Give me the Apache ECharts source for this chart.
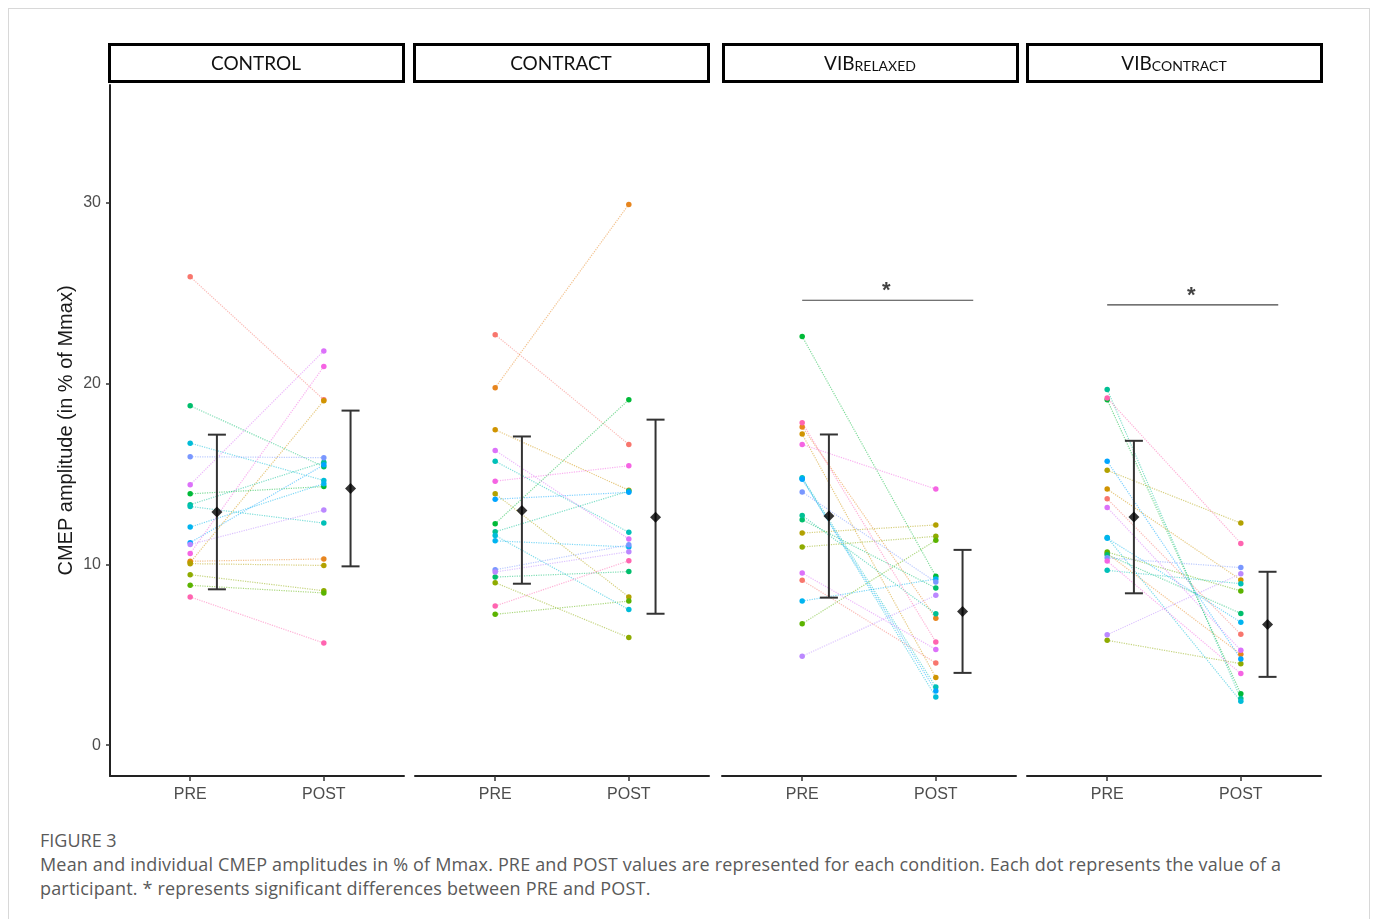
<!DOCTYPE html>
<html>
<head>
<meta charset="utf-8">
<script src="https://cdn.jsdelivr.net/npm/echarts@6.0.0/dist/echarts.min.js"></script>
<style>
  html, body { margin: 0; padding: 0; background: #fff; }
  #frame { position: absolute; left: 8px; top: 8px; width: 1362px; height: 940px; border: 1px solid #d8d8d8; box-sizing: border-box; }
  #chart { position: absolute; left: 0; top: 0; width: 1375px; height: 820px; }
  #caption { position: absolute; left: 40px; top: 828px; width: 1262px; font-family: "Open Sans", sans-serif; color: #5a5a5a; font-size: 18px; letter-spacing: 0.17px; line-height: 24px; }
  #caption .fig { text-transform: uppercase; color: #5a5a5a; letter-spacing: 0; }
</style>
</head>
<body>
<div id="frame"></div>
<div id="chart"></div>
<div id="caption">
  <div class="fig">FIGURE 3</div>
  <div>Mean and individual CMEP amplitudes in % of Mmax. PRE and POST values are represented for each condition. Each dot represents the value of a participant. * represents significant differences between PRE and POST.</div>
</div>
<script>
// panel headers (main part + small-caps part)
const headerMain = ['CONTROL', 'CONTRACT', 'VIB', 'VIB'];
const headerSub = ['', '', 'RELAXED', 'CONTRACT'];
const timeLabels = ['PRE', 'POST'];
const yTicks = [0, 10, 20, 30];

// individual participants, same index = same participant colour
const controlPre   = [25.9, 10.17, 10.1, 10.04, 9.43, 8.84, 13.9, 18.77, 13.3, 13.2, 16.7, 12.06, 11.2, 15.95, 11.1, 14.4, 10.6, 8.2];
const controlPost  = [19.1, 10.3, 19.05, 9.94, 8.54, 8.42, 14.3, 15.4, 15.65, 12.28, 14.64, 14.46, 15.5, 15.9, 13.0, 21.8, 20.94, 5.65];
const contractPre  = [22.7, 19.76, 17.44, 13.9, 8.99, 7.24, 12.25, 9.3, 11.8, 15.7, 11.6, 11.3, 13.6, 9.7, 9.58, 16.3, 14.6, 7.7];
const contractPost = [16.63, 29.9, 14.1, 8.2, 5.95, 7.97, 19.1, 9.6, 14.05, 11.77, 7.5, 10.96, 13.98, 11.08, 10.7, 11.4, 15.45, 10.2];
const vibRelPre    = [9.12, 17.6, 17.2, 11.73, 10.96, 6.72, 22.6, 12.47, 12.7, 14.79, 14.75, 7.97, 14.7, 14.0, 4.92, 9.52, 16.63, 17.83];
const vibRelPost   = [4.55, 7.02, 3.74, 12.18, 11.55, 11.33, 9.34, 8.69, 7.27, 3.22, 2.67, 9.19, 3.0, 9.02, 8.29, 5.3, 14.16, 5.71];
const vibConPre    = [13.63, 10.6, 14.16, 15.2, 5.8, 10.68, 19.1, 10.53, 19.67, 9.67, 11.49, 11.45, 15.7, 10.36, 6.11, 13.15, 10.18, 19.2];
const vibConPost   = [6.13, 5.03, 9.14, 12.28, 4.51, 8.53, 2.85, 7.29, 2.58, 8.93, 2.43, 6.8, 4.77, 9.82, 9.48, 5.25, 3.96, 11.16];

// group means and error bars
const meanPre     = [12.9, 12.98, 12.67, 12.62];
const meanPost    = [14.2, 12.6, 7.4, 6.68];
const errPreLow   = [8.62, 8.93, 8.16, 8.4];
const errPreHigh  = [17.17, 17.07, 17.18, 16.83];
const errPostLow  = [9.89, 7.27, 4.0, 3.78];
const errPostHigh = [18.5, 18.0, 10.8, 9.59];

// significance bars: panel index and height
const sigPanels = [2, 3];
const sigY = [24.6, 24.35];

const palette = ['#F8766D','#E7851E','#D09400','#B2A100','#8EAB00','#5BB300','#00BA38','#00BE6C','#00C094',
  '#00C0B8','#00BCD8','#00B4F0','#00A5FF','#7997FF','#BB88FF','#DC71FA','#F564E3','#FF64B0'];

const pres = [controlPre, contractPre, vibRelPre, vibConPre];
const posts = [controlPost, contractPost, vibRelPost, vibConPost];

const gridLefts = [110, 415, 722, 1027];
const boxLefts = [108, 413, 722, 1026];
const gridW = 294, gridTop = 85, gridH = 691;

const grid = gridLefts.map(l => ({ left: l, top: gridTop, width: gridW, height: gridH }));

const xAxis = gridLefts.map((l, i) => ({
  type: 'value', gridIndex: i, min: 0.4, max: 2.6,
  splitLine: { show: false },
  axisLine: { show: true, onZero: false, lineStyle: { color: '#222', width: 2 } },
  axisTick: { show: true, customValues: [1, 2], length: 5, lineStyle: { color: '#333', width: 1.5 } },
  axisLabel: { customValues: [1, 2], formatter: v => timeLabels[Math.round(v) - 1], color: '#4d4d4d',
    fontSize: 16, fontFamily: 'Liberation Sans, Arial, sans-serif', margin: 11 }
}));

const yAxis = gridLefts.map((l, i) => ({
  type: 'value', gridIndex: i, min: -1.7, max: 36.5,
  show: i === 0,
  splitLine: { show: false },
  name: i === 0 ? 'CMEP amplitude (in % of Mmax)' : '',
  nameLocation: 'middle', nameGap: 34,
  nameTextStyle: { fontSize: 20, color: '#1a1a1a', fontFamily: 'Liberation Sans, Arial, sans-serif' },
  axisLine: { show: true, lineStyle: { color: '#222', width: 2 } },
  axisTick: { show: true, customValues: yTicks, length: 4, lineStyle: { color: '#333', width: 1.5 } },
  axisLabel: { customValues: yTicks, color: '#4d4d4d', fontSize: 16, margin: 9,
    fontFamily: 'Liberation Sans, Arial, sans-serif' }
}));

const series = [];
pres.forEach((pre, p) => {
  pre.forEach((v, k) => {
    series.push({
      type: 'line', xAxisIndex: p, yAxisIndex: p,
      data: [[1, v], [2, posts[p][k]]],
      symbol: 'circle', symbolSize: 5.5,
      itemStyle: { color: palette[k] },
      lineStyle: { color: palette[k], type: 'dotted', width: 1.2, opacity: 0.5 },
      silent: true, animation: false
    });
  });
});

function errRender(params, api) {
  const x = api.value(0);
  const top = api.coord([x, api.value(2)]);
  const bot = api.coord([x, api.value(1)]);
  const cap = 9;
  const st = { stroke: '#333', lineWidth: 2 };
  return {
    type: 'group', children: [
      { type: 'line', shape: { x1: top[0], y1: top[1], x2: bot[0], y2: bot[1] }, style: st },
      { type: 'line', shape: { x1: top[0] - cap, y1: top[1], x2: top[0] + cap, y2: top[1] }, style: st },
      { type: 'line', shape: { x1: bot[0] - cap, y1: bot[1], x2: bot[0] + cap, y2: bot[1] }, style: st }
    ]
  };
}

for (let p = 0; p < 4; p++) {
  series.push({
    type: 'custom', xAxisIndex: p, yAxisIndex: p, renderItem: errRender,
    encode: { x: 0, y: [1, 2] },
    data: [[1.2, errPreLow[p], errPreHigh[p]], [2.2, errPostLow[p], errPostHigh[p]]],
    z: 5, silent: true, animation: false
  });
  series.push({
    type: 'scatter', xAxisIndex: p, yAxisIndex: p, symbol: 'diamond', symbolSize: 11,
    itemStyle: { color: '#000' },
    data: [[1.2, meanPre[p]], [2.2, meanPost[p]]], z: 6, silent: true, animation: false
  });
}

sigPanels.forEach((p, i) => {
  series.push({
    type: 'line', xAxisIndex: p, yAxisIndex: p, symbol: 'none',
    lineStyle: { color: '#444', width: 1.2 },
    data: [[1.0, sigY[i]], [2.28, sigY[i]]], silent: true, animation: false
  });
  series.push({
    type: 'scatter', xAxisIndex: p, yAxisIndex: p, symbolSize: 0,
    data: [[1.63, sigY[i]]],
    label: { show: true, formatter: '*', position: 'top', distance: -2, fontSize: 22, fontWeight: 'bold',
      color: '#111', fontFamily: 'Liberation Sans, Arial, sans-serif' },
    silent: true, animation: false
  });
});

const graphic = [];
boxLefts.forEach((l, i) => {
  graphic.push({
    type: 'rect', shape: { x: l + 1.5, y: 44.5, width: 294, height: 37 },
    style: { fill: '#fff', stroke: '#000', lineWidth: 3 }
  });
  graphic.push({
    type: 'text', x: l + 148, y: 73, style: {
      text: headerSub[i] ? '{a|' + headerMain[i] + '}{b|' + headerSub[i] + '}' : '{a|' + headerMain[i] + '}',
      align: 'center', verticalAlign: 'bottom',
      rich: {
        a: { fontSize: 19, fontFamily: 'Lato, "Open Sans", sans-serif', fill: '#111', verticalAlign: 'bottom', lineHeight: 22 },
        b: { fontSize: 14, fontFamily: 'Lato, "Open Sans", sans-serif', fill: '#111', verticalAlign: 'bottom', lineHeight: 18 }
      }
    }
  });
});

const chart = echarts.init(document.getElementById('chart'));
chart.setOption({
  animation: false,
  grid, xAxis, yAxis, series, graphic
});
</script>
</body>
</html>
